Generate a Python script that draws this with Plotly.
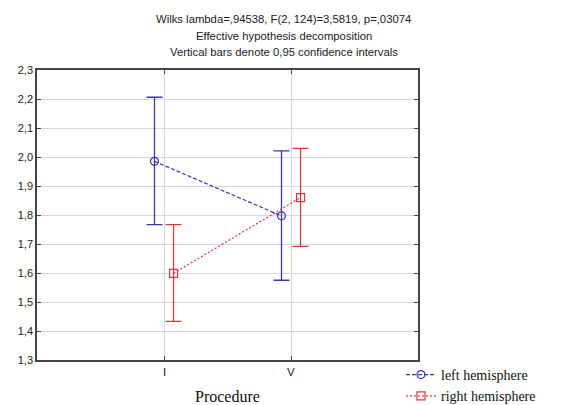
import plotly.graph_objects as go

categories = ["I", "V"]
cat_pos = [1, 2]
left_mean = [1.985, 1.797]
left_upper = [2.206, 2.021]
left_lower = [1.767, 1.575]
right_mean = [1.599, 1.860]
right_upper = [1.767, 2.030]
right_lower = [1.433, 1.692]
yticks = [1.3, 1.4, 1.5, 1.6, 1.7, 1.8, 1.9, 2.0, 2.1, 2.2, 2.3]
ytick_text = ["1,3", "1,4", "1,5", "1,6", "1,7", "1,8", "1,9", "2,0", "2,1", "2,2", "2,3"]
title_lines = [
    "Wilks lambda=,94538, F(2, 124)=3,5819, p=,03074",
    "Effective hypothesis decomposition",
    "Vertical bars denote 0,95 confidence intervals",
]
x_title = "Procedure"

blue = "#3a3aa6"
red = "#d23c3c"
offset = 0.075

W, H = 567, 405
ML, MR, MT, MB = 37, 149, 70, 45
PW, PH = W - ML - MR, H - MT - MB


def px_to_paper_x(px):
    return (px - ML) / PW


def px_to_paper_y(py):
    return (H - MB - py) / PH


fig = go.Figure()
fig.add_trace(go.Scatter(
    x=[p - offset for p in cat_pos], y=left_mean, name="left hemisphere",
    mode="lines+markers",
    line=dict(color=blue, width=1.2, dash="4px,2px"),
    marker=dict(symbol="circle-open", size=8, color=blue, line=dict(width=1.2)),
    error_y=dict(type="data", symmetric=False,
                 array=[u - m for u, m in zip(left_upper, left_mean)],
                 arrayminus=[m - l for m, l in zip(left_mean, left_lower)],
                 color=blue, thickness=1.3, width=8),
))
fig.add_trace(go.Scatter(
    x=[p + offset for p in cat_pos], y=right_mean, name="right hemisphere",
    mode="lines+markers",
    line=dict(color=red, width=1.2, dash="2px,2px"),
    marker=dict(symbol="square-open", size=8, color=red, line=dict(width=1.2)),
    error_y=dict(type="data", symmetric=False,
                 array=[u - m for u, m in zip(right_upper, right_mean)],
                 arrayminus=[m - l for m, l in zip(right_mean, right_lower)],
                 color=red, thickness=1.3, width=8),
))

title_y_px = [19, 36, 52]
annotations = [
    dict(text=t, xref="paper", yref="paper", x=px_to_paper_x(W / 2), y=px_to_paper_y(py),
         xanchor="center", yanchor="middle", showarrow=False,
         font=dict(family="Liberation Sans, Arial", size=11.3, color="#222222"))
    for t, py in zip(title_lines, title_y_px)
]
# category tick labels
annotations += [
    dict(text=c, xref="x", yref="paper", x=p, y=px_to_paper_y(372),
         xanchor="center", yanchor="middle", showarrow=False,
         font=dict(family="Liberation Sans, Arial", size=11.5, color="#222222"))
    for c, p in zip(categories, cat_pos)
]
# x-axis title
annotations.append(
    dict(text=x_title, xref="paper", yref="paper", x=0.5, y=px_to_paper_y(396),
         xanchor="center", yanchor="middle", showarrow=False,
         font=dict(family="Liberation Serif, Times New Roman", size=16, color="#111111"))
)

fig.update_layout(
    width=W, height=H,
    margin=dict(l=ML, r=MR, t=MT, b=MB, autoexpand=False),
    paper_bgcolor="white", plot_bgcolor="white",
    font=dict(family="Liberation Sans, Arial", size=11, color="#222222"),
    annotations=annotations,
    showlegend=True,
    legend=dict(
        x=px_to_paper_x(401), xanchor="left", y=px_to_paper_y(359), yanchor="top",
        font=dict(family="Liberation Serif, Times New Roman", size=14, color="#111111"),
        bgcolor="rgba(0,0,0,0)", tracegroupgap=0, itemwidth=30,
    ),
)
fig.update_xaxes(
    range=[0, 3], tickvals=cat_pos, ticktext=categories, showticklabels=False,
    showgrid=True, gridcolor="#d8d8d8", gridwidth=1,
    showline=True, linecolor="#444444", linewidth=1.5, mirror="allticks",
    ticks="inside", ticklen=4, tickcolor="#444444",
    zeroline=False,
)
fig.update_yaxes(
    range=[1.3, 2.3], tickvals=yticks, ticktext=ytick_text,
    showgrid=True, gridcolor="#d8d8d8", gridwidth=1,
    showline=True, linecolor="#444444", linewidth=1.5, mirror="allticks",
    ticks="inside", ticklen=4, tickcolor="#444444",
    zeroline=False,
)

fig.write_html(
    "out.html",
    config={"displayModeBar": False},
    post_script="document.body.style.margin='0px';document.body.style.overflow='hidden';",
)
